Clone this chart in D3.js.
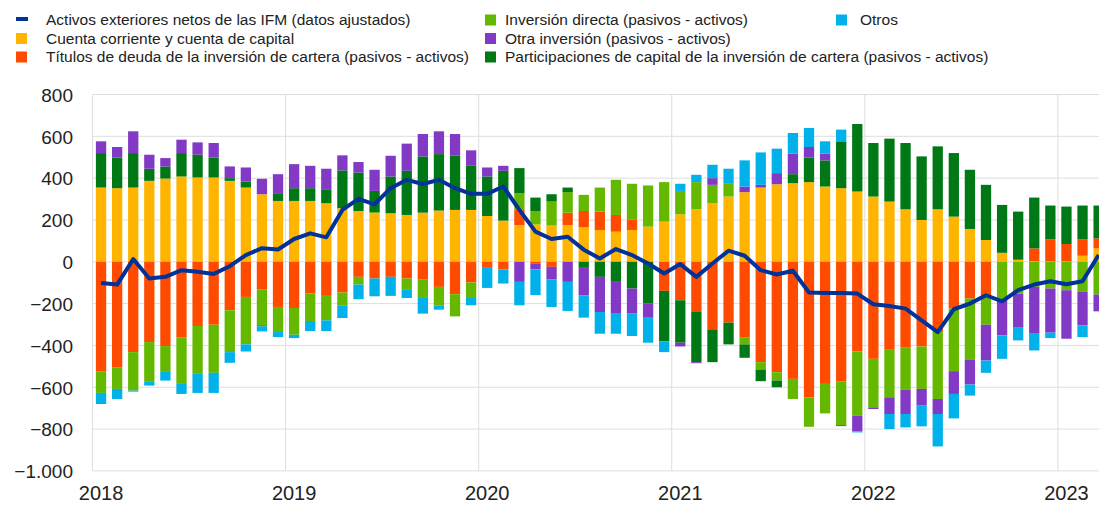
<!DOCTYPE html>
<html>
<head>
<meta charset="utf-8">
<script src="https://cdn.jsdelivr.net/npm/d3@7"></script>
<style>
  html, body { margin: 0; padding: 0; background: #fff; }
  svg { display: block; font-family: "Liberation Sans", Arial, sans-serif; }
</style>
</head>
<body>
<svg id="chart" width="1099" height="506"></svg>
<script>
// ---------- DATA ----------
const months = d3.range(63).map(i => new Date(2018, i, 1));
const yearLabels = ["2018", "2019", "2020", "2021", "2022", "2023"];
const yTicks = [800, 600, 400, 200, 0, -200, -400, -600, -800, -1000];

const seriesNames = [
  "Cuenta corriente y cuenta de capital",
  "Títulos de deuda de la inversión de cartera (pasivos - activos)",
  "Inversión directa (pasivos - activos)",
  "Participaciones de capital de la inversión de cartera (pasivos - activos)",
  "Otra inversión (pasivos - activos)",
  "Otros"
];
const lineName = "Activos exteriores netos de las IFM (datos ajustados)";

const cuentaCorriente = [355,352,355,387,398,408,403,403,387,355,323,291,291,291,280,256,243,232,232,224,235,245,248,248,219,197,176,179,173,176,165,152,144,152,168,192,227,251,280,312,333,355,371,376,381,360,352,336,312,288,251,200,251,216,157,104,43,10,3,2,2,29,64];
const titulosDeuda = [-523,-504,-432,-384,-403,-363,-307,-301,-232,-168,-131,-216,-221,-152,-163,-147,-72,-80,-72,-80,-83,-120,-155,-99,-29,-37,72,-10,-24,59,78,88,80,51,0,-139,-184,-237,-323,-291,-363,-480,-528,-560,-648,-584,-571,-429,-464,-421,-411,-405,-336,-224,-176,-163,0,0,61,105,83,78,48];
const inversionDirecta = [-104,-104,-184,-187,-120,-221,-229,-230,-200,-227,-173,-120,-128,-131,-117,-61,-37,5,0,-51,-90,-88,-106,-74,0,0,80,64,115,98,77,115,168,170,197,189,112,130,88,61,-32,-35,-40,-96,-141,-141,-210,-307,-232,-227,-200,-203,-320,-299,-291,-138,-184,-152,-120,-128,-136,-144,-157];
const participaciones = [165,147,165,58,58,112,109,96,13,29,-5,37,61,61,67,181,184,102,176,211,269,270,261,211,189,238,120,64,35,22,-29,-72,-96,-128,-200,-242,-203,-243,-157,-104,-64,-56,-32,43,118,125,224,323,256,301,317,304,301,304,283,264,229,230,243,162,179,162,157];
const otraInversion = [56,50,104,67,40,64,59,69,56,67,74,91,115,107,98,72,50,101,99,130,107,109,102,74,43,24,-96,-26,-61,-96,-131,-168,-149,-120,-64,0,-18,-5,32,0,27,13,53,98,50,32,-5,-75,-8,-80,-117,-80,-72,-109,-120,-171,-168,-160,-224,-211,-232,-160,-80];
const otros = [-53,-48,-5,-21,-45,-48,-91,-96,-51,-34,-24,-24,-16,-48,-51,-61,-70,-85,-91,-42,-75,-21,0,-35,-96,-67,-112,-123,-131,-139,-107,-104,-99,-107,-123,-51,34,35,64,72,125,155,117,99,91,59,56,-5,0,-72,-64,-99,-155,-117,-53,-59,-112,-64,-80,-26,0,-56,0];
const activosNetos = [-101,-109,13,-80,-72,-40,-48,-58,-21,32,65,59,109,136,117,248,301,275,352,392,372,392,352,325,325,360,248,144,109,120,58,16,61,32,-8,-56,-11,-72,-8,53,29,-40,-61,-43,-147,-149,-149,-152,-203,-211,-224,-280,-336,-227,-200,-160,-189,-136,-109,-93,-107,-93,32];

const seriesValues = [cuentaCorriente, titulosDeuda, inversionDirecta, participaciones, otraInversion, otros];
const colors = ["#ffb400", "#ff4b00", "#65b800", "#007816", "#8139c6", "#00b1ea"];
const lineColor = "#003299";

// ---------- LAYOUT ----------
const svg = d3.select("#chart");
const x0 = 93, step = 16.09;
const plotTop = 94.5, plotBottom = 470.9;

const table = months.map((m, i) => {
  const row = { month: m };
  seriesNames.forEach((s, k) => row[s] = seriesValues[k][i]);
  return row;
});

const x = d3.scaleBand()
  .domain(months.map(d => +d))
  .range([x0, x0 + step * months.length])
  .paddingInner(0.36)
  .paddingOuter(0.18);

const y = d3.scaleLinear().domain([-1000, 800]).range([plotBottom, plotTop]);

const gridColor = "#dedede";

// horizontal gridlines
svg.append("g").selectAll("line").data(yTicks).join("line")
  .attr("x1", x0).attr("x2", 1099)
  .attr("y1", d => y(d)).attr("y2", d => y(d))
  .attr("stroke", gridColor).attr("stroke-width", 1);

// vertical gridlines at year starts
const yearStarts = yearLabels.map(yl => new Date(+yl, 0, 1));
svg.append("g").selectAll("line").data(yearStarts).join("line")
  .attr("x1", d => x(+d) - x.step() * 0.18 - 0.5)
  .attr("x2", d => x(+d) - x.step() * 0.18 - 0.5)
  .attr("y1", plotTop).attr("y2", plotBottom)
  .attr("stroke", gridColor).attr("stroke-width", 1);

// stacked bars
const stack = d3.stack().keys(seriesNames).offset(d3.stackOffsetDiverging);
const stacked = stack(table);

svg.append("g").selectAll("g").data(stacked).join("g")
  .attr("fill", (d, k) => colors[k])
  .selectAll("rect").data(d => d).join("rect")
  .attr("x", d => x(+d.data.month))
  .attr("width", x.bandwidth())
  .attr("y", d => y(Math.max(d[0], d[1])))
  .attr("height", d => Math.abs(y(d[0]) - y(d[1])));

// line
const line = d3.line()
  .x((d, i) => x(+months[i]) + x.bandwidth() / 2)
  .y(d => y(d))
  .curve(d3.curveLinear);

svg.append("path")
  .datum(activosNetos)
  .attr("d", line)
  .attr("fill", "none")
  .attr("stroke", lineColor)
  .attr("stroke-width", 4)
  .attr("stroke-linejoin", "round");

// y axis labels
const fmt = d3.formatLocale({ decimal: ",", thousands: ".", grouping: [3], currency: ["", "€"] }).format(",d");
const yAxis = d3.axisLeft(y).tickValues(yTicks).tickFormat(d => fmt(d)).tickSize(0).tickPadding(0);
const gy = svg.append("g").attr("transform", "translate(73,0)").call(yAxis);
gy.select(".domain").remove();
gy.selectAll("text").attr("font-size", 19).attr("fill", "#222")
  .attr("font-family", '"Liberation Sans", Arial, sans-serif').attr("dy", "0.36em");

// x axis labels (centered on January bars)
const xAxis = d3.axisBottom(x).tickValues(yearStarts.map(d => +d))
  .tickFormat(d => d3.timeFormat("%Y")(new Date(d))).tickSize(0).tickPadding(0);
const gx = svg.append("g").attr("transform", "translate(0,486)").call(xAxis);
gx.select(".domain").remove();
gx.selectAll("text").attr("font-size", 20).attr("fill", "#222")
  .attr("font-family", '"Liberation Sans", Arial, sans-serif').attr("dy", "0.71em");

// legend
const legendItems = [
  { name: lineName, type: "line", color: lineColor, col: 0, row: 0 },
  { name: seriesNames[0], type: "rect", color: colors[0], col: 0, row: 1 },
  { name: seriesNames[1], type: "rect", color: colors[1], col: 0, row: 2 },
  { name: seriesNames[2], type: "rect", color: colors[2], col: 1, row: 0 },
  { name: seriesNames[4], type: "rect", color: colors[4], col: 1, row: 1 },
  { name: seriesNames[3], type: "rect", color: colors[3], col: 1, row: 2 },
  { name: seriesNames[5], type: "rect", color: colors[5], col: 2, row: 0 }
];
const colX = [16, 485, 836];
const textX = [46, 505, 860];
const rowY = [20, 38.5, 57];
const lg = svg.append("g");
legendItems.forEach(it => {
  const g = lg.append("g");
  if (it.type === "line") {
    g.append("rect").attr("x", colX[it.col]).attr("y", rowY[it.row] - 3)
      .attr("width", 12).attr("height", 4).attr("fill", it.color);
  } else {
    g.append("rect").attr("x", colX[it.col]).attr("y", rowY[it.row] - 5.5)
      .attr("width", 11).attr("height", 11).attr("fill", it.color);
  }
  g.append("text").attr("x", textX[it.col]).attr("y", rowY[it.row])
    .attr("dy", "0.35em").attr("font-size", 15.5).attr("fill", "#222")
    .text(it.name);
});
</script>
</body>
</html>
